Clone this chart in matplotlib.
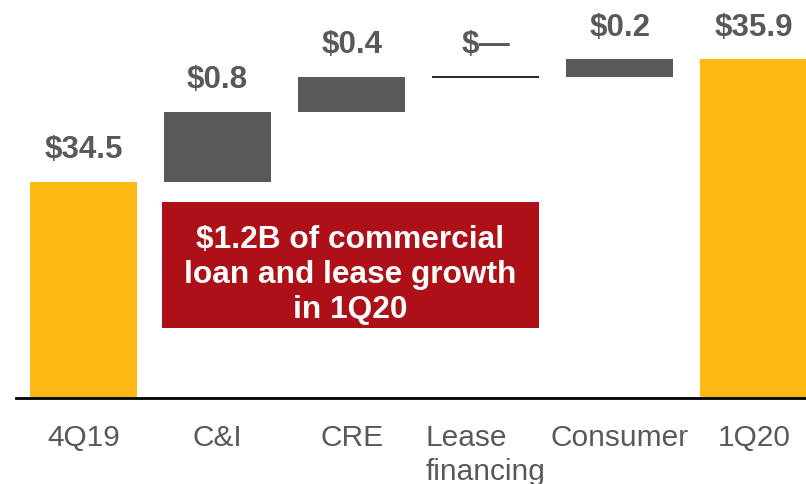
import matplotlib.pyplot as plt
from matplotlib.patches import Rectangle

plt.rcParams['font.family'] = ['Liberation Sans', 'DejaVu Sans']

categories = ["4Q19", "C&I", "CRE", "Lease\nfinancing", "Consumer", "1Q20"]
start_total = 34.5
changes = [0.8, 0.4, 0.0, 0.2]
end_total = 35.9
value_labels = ["$34.5", "$0.8", "$0.4", "$\u2014", "$0.2", "$35.9"]
note_text = "$1.2B of commercial\nloan and lease growth\nin 1Q20"

GOLD = "#FDB913"
GREY = "#595959"
RED = "#AD1016"

fig = plt.figure(figsize=(8.06, 4.84), dpi=100)
ax = fig.add_axes([16 / 806, 86 / 484, 790 / 806, 398 / 484])

x = list(range(len(categories)))
width = 0.8

# totals
ax.bar(x[0], start_total, width=width, color=GOLD)
ax.bar(x[-1], end_total, width=width, color=GOLD)

# floating change bars
tops = [start_total]
level = start_total
for i, d in enumerate(changes, start=1):
    if d == 0:
        ax.hlines(level, i - width / 2, i + width / 2, color="black", lw=1.2)
    else:
        ax.bar(i, d, bottom=level, width=width, color=GREY)
    level += d
    tops.append(level)
tops.append(end_total)

for xi, top, lab in zip(x, tops, value_labels):
    ax.annotate(lab, (xi, top), xytext=(0, 23), textcoords="offset points",
                ha="center", va="center", fontsize=22.5, fontweight="bold",
                color=GREY)

ax.set_xlim(-0.504, 5.39)
ax.set_ylim(32.03, 36.58)
ax.set_xticks(x)
ax.set_xticklabels(categories, fontsize=21.5, color=GREY, multialignment="left",
                   va="top", linespacing=1.25)
ax.tick_params(axis="x", length=0, pad=19)
ax.set_yticks([])
for side in ["top", "right", "left"]:
    ax.spines[side].set_visible(False)
ax.spines["bottom"].set_linewidth(2)
ax.spines["bottom"].set_color("black")

# callout box
ax.add_patch(Rectangle((0.1848, 0.1759), 0.477, 0.3166, transform=ax.transAxes,
                       facecolor=RED, edgecolor="none", zorder=3, clip_on=False))
ax.text(0.4234, 0.309, note_text, transform=ax.transAxes, ha="center",
        va="center", fontsize=22.8, fontweight="bold", color="white",
        linespacing=1.2, zorder=4)

fig.savefig("out.png", dpi=100)
